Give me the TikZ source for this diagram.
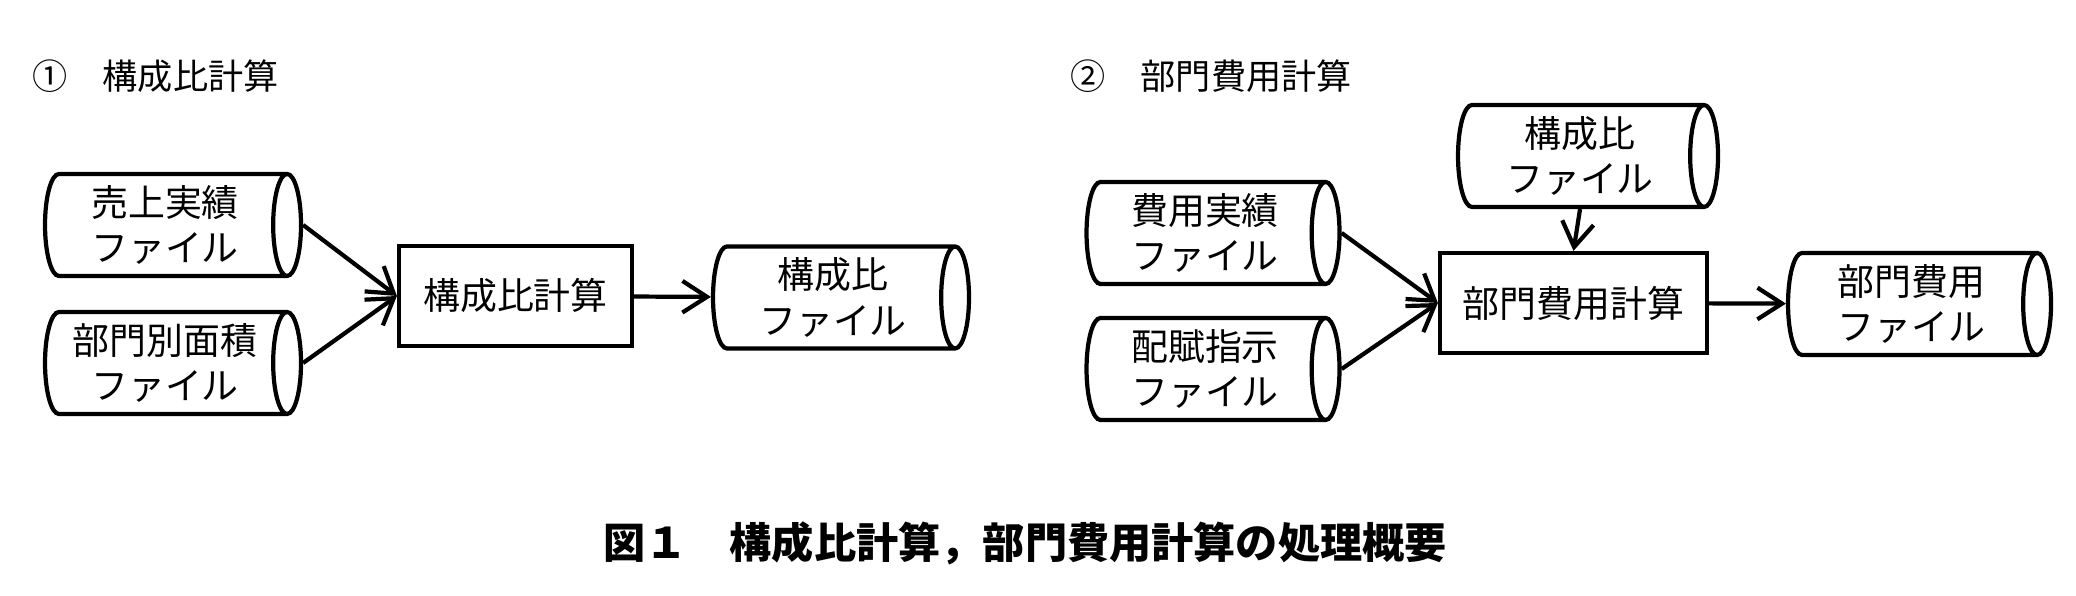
\documentclass[tikz,border=0pt]{standalone}
\usepackage{fontspec}
\setmainfont{Noto Sans CJK JP}
\usetikzlibrary{shapes.geometric,arrows.meta}
\tikzset{
	filecyl/.style={draw, line width=1.2pt, cylinder, shape border rotate=0, aspect=0.35,
		minimum width=1.02cm, minimum height=2.56cm, align=center, font=\fontsize{10.5pt}{13pt}\selectfont, inner sep=0pt},
	procbox/.style={draw, line width=1.2pt, minimum height=1.0cm, align=center, font=\fontsize{10.5pt}{13pt}\selectfont},
	flow/.style={line width=1.2pt, -{Straight Barb[length=7pt,width=9pt]}}
}
\begin{document}
\begin{tikzpicture}
	\useasboundingbox (0,0) rectangle (20.76,5.96);

	% 1
	\node[anchor=west, font=\fontsize{10pt}{12pt}\selectfont] (t1) at (0.2,5.2) {①\quad 構成比計算};
	\node[filecyl] (s1) at (1.65,3.71) {売上実績\\ファイル};
	\node[filecyl] (s2) at (1.65,2.33) {部門別面積\\ファイル};
	\node[procbox, minimum width=2.33cm] (p1) at (5.155,3.0) {構成比計算};
	\node[filecyl] (r1) at (8.33,2.985) {構成比\\ファイル};

	\draw[flow] (s1.east) -- (p1.west);
	\draw[flow] (s2.east) -- (p1.west);
	\draw[flow] (p1) -- (r1);

	% 2
	\node[anchor=west, font=\fontsize{10pt}{12pt}\selectfont] (t2) at (10.58,5.2) {②\quad 部門費用計算};
	\node[filecyl, minimum height=2.6cm] (c2) at (15.8,4.4) {構成比\\ファイル};
	\node[filecyl, minimum height=2.53cm] (h1) at (12.05,3.63) {費用実績\\ファイル};
	\node[filecyl, minimum height=2.53cm] (h2) at (12.05,2.27) {配賦指示\\ファイル};
	\node[procbox, minimum width=2.67cm] (p2) at (15.735,2.93) {部門費用計算};
	\node[filecyl, minimum height=2.63cm] (o2) at (19.115,2.92) {部門費用\\ファイル};

	\draw[flow] (h1.east) -- (p2.west);
	\draw[flow] (h2.east) -- (p2.west);
	\draw[flow] (c2.south) -- (p2.north);
	\draw[flow] (p2) -- (o2);

	\node[font=\bfseries\fontsize{12pt}{14pt}\selectfont] (cap) at (10.25,0.53) {図１\quad 構成比計算，部門費用計算の処理概要};
\end{tikzpicture}
\end{document}
